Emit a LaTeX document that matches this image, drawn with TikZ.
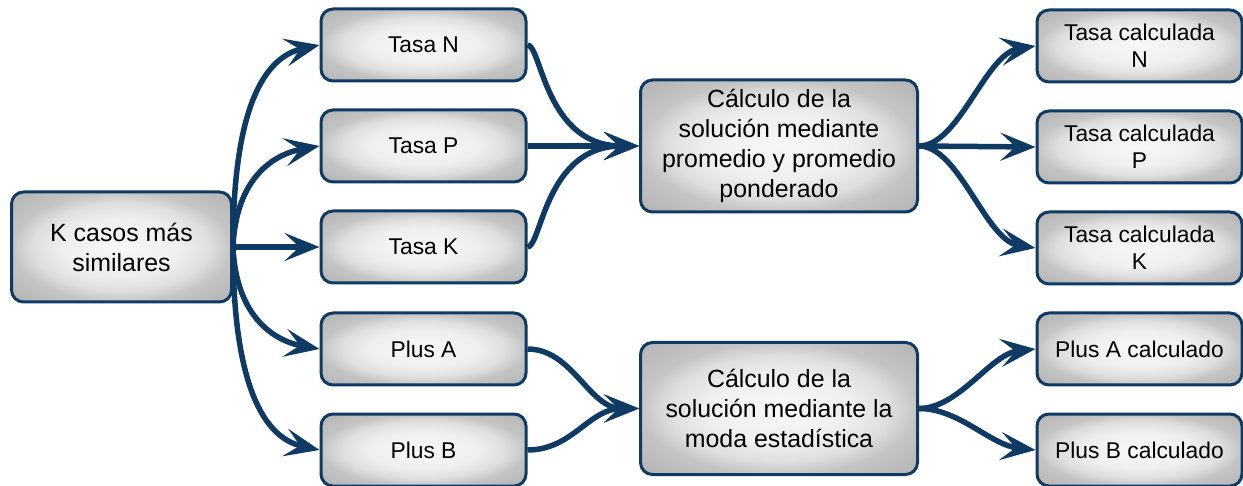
\documentclass[tikz,border=0pt]{standalone}
\usepackage{fontspec}
\setmainfont{Liberation Sans}
\usetikzlibrary{arrows.meta}
\definecolor{linkblue}{RGB}{14,58,100}
\definecolor{shA}{RGB}{247,247,247}
\definecolor{shB}{RGB}{239,239,239}
\definecolor{shM}{RGB}{222,222,222}
\definecolor{shC}{RGB}{196,196,196}
\definecolor{shD}{RGB}{178,178,178}
\pgfdeclareradialshading{boxshade}{\pgfpointorigin}{%
  color(0bp)=(shA); color(13bp)=(shB); color(20bp)=(shM); color(25bp)=(shC);
  color(36bp)=(shD); color(50bp)=(shD)}

\begin{document}
\begin{tikzpicture}[x=0.5pt,y=-0.5pt,
  box/.style={draw=linkblue, line width=1.5pt, rounded corners=6pt,
    shading=boxshade, align=center, inner sep=0pt, text=black},
  small/.style={box, minimum width=102.5pt, minimum height=36pt,
    font=\fontsize{11.4}{13.5}\selectfont},
  big/.style={box, font=\fontsize{12.45}{15}\selectfont},
  link/.style={draw=linkblue, line width=2.75pt,
    -{Stealth[length=17.5pt,width=14pt,inset=7.5pt]}},
]
\useasboundingbox (0,0) rectangle (1243,486);

% source
\node[big, minimum width=110pt, minimum height=55pt] (k) at (121.5,247) {K casos más\\similares};

% attributes
\node[small] (tn) at (423.5,45)  {Tasa N};
\node[small] (tp) at (423.5,146) {Tasa P};
\node[small] (tk) at (423.5,247) {Tasa K};
\node[small] (pa) at (423.5,349) {Plus A};
\node[small] (pb) at (423.5,450) {Plus B};

% calculation steps
\node[big, minimum width=138.5pt, minimum height=66pt] (c1) at (779,146)
  {Cálculo de la\\solución mediante\\promedio y promedio\\ponderado};
\node[big, minimum width=138.5pt, minimum height=66pt] (c2) at (779,408.5)
  {Cálculo de la\\solución mediante la\\moda estadística};

% results
\node[small] (rn) at (1139.5,46)  {Tasa calculada\\N};
\node[small] (rp) at (1139.5,147) {Tasa calculada\\P};
\node[small] (rk) at (1139.5,248) {Tasa calculada\\K};
\node[small] (ra) at (1139.5,349) {Plus A calculado};
\node[small] (rb) at (1139.5,450) {Plus B calculado};

% fan-out from the source
\draw[link] (k.east) .. controls +(0,-140) and +(-55,12) .. (tn.west);
\draw[link] (k.east) .. controls +(3,-70) and +(-45,8) .. (tp.west);
\draw[link] (k.east) -- (tk.west);
\draw[link] (k.east) .. controls +(3,70) and +(-45,-8) .. (pa.west);
\draw[link] (k.east) .. controls +(0,140) and +(-55,-12) .. (pb.west);

% into the calculations
\draw[link] (tn.east) .. controls +(14,0) and +(-94,0) .. (c1.west);
\draw[link] (tp.east) -- (c1.west);
\draw[link] (tk.east) .. controls +(14,0) and +(-94,0) .. (c1.west);
\draw[link] (pa.east) .. controls +(45,0) and +(-50,0) .. (c2.west);
\draw[link] (pb.east) .. controls +(45,0) and +(-50,0) .. (c2.west);

% out to the results
\draw[link] (c1.east) .. controls +(40,0) and +(-50,8) .. (rn.west);
\draw[link] (c1.east) -- (rp.west);
\draw[link] (c1.east) .. controls +(40,0) and +(-50,-8) .. (rk.west);
\draw[link] (c2.east) .. controls +(40,0) and +(-45,5) .. (ra.west);
\draw[link] (c2.east) .. controls +(40,0) and +(-45,-5) .. (rb.west);
\end{tikzpicture}
\end{document}
